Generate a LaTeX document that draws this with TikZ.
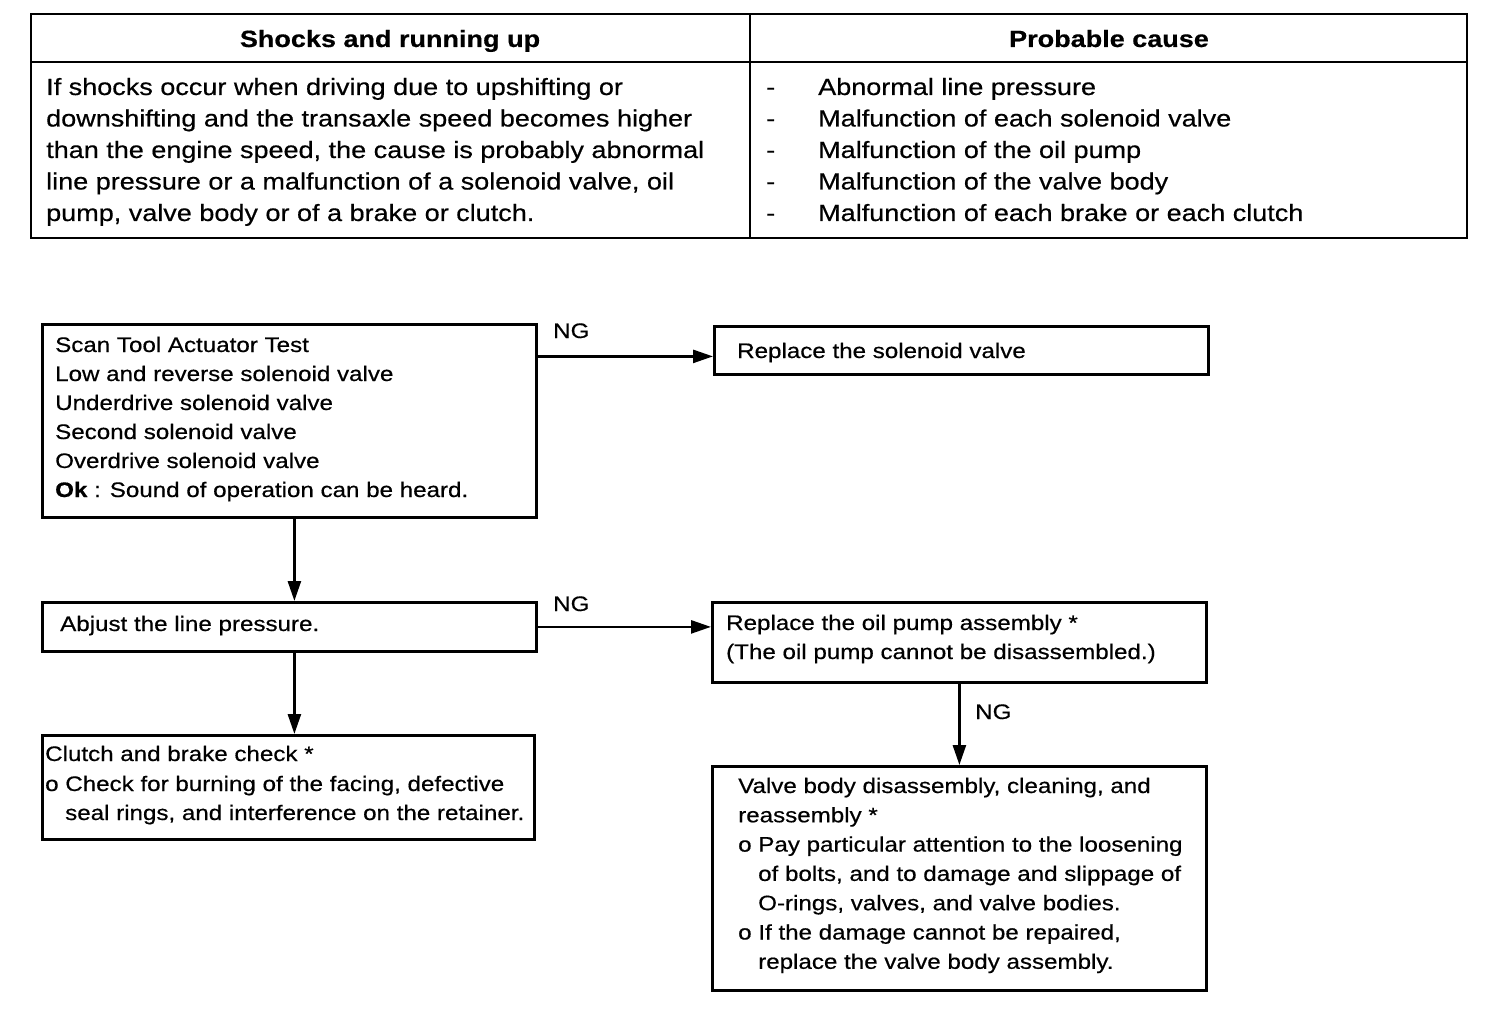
\documentclass[tikz,border=0pt]{standalone}
\usepackage{fontspec}
\setmainfont[FakeStretch=1.15,FakeBold=0.5]{Liberation Sans}
\usetikzlibrary{arrows.meta}
\begin{document}
\begin{tikzpicture}[x=1pt,y=1pt,
  tbl/.style={line width=2.8pt},
  tbli/.style={line width=2.2pt},
  box/.style={draw,line width=2.8pt,inner sep=0pt,anchor=north west},
  tt/.style={font=\fontsize{23.5}{28}\selectfont, inner sep=0pt, anchor=base west},
  th/.style={font=\bfseries\fontsize{23.5}{28}\selectfont, inner sep=0pt, anchor=base},
  ft/.style={font=\fontsize{21}{25}\selectfont, inner sep=0pt, anchor=base west},
  arr/.style={line width=2.6pt, -{Triangle[length=20pt,width=13pt]}}]
\useasboundingbox (0,0) rectangle (1504,-1016);
% table
\draw[tbl] (31,-14) rectangle (1467,-238);
\draw[tbli] (31,-62) -- (1467,-62);
\draw[tbli] (750,-14) -- (750,-238);
\node[th] (h1) at (390,-47) {Shocks and running up};
\node[th] (h2) at (1109,-47) {Probable cause};
\foreach \t [count=\i from 0] in {{If shocks occur when driving due to upshifting or},{downshifting and the transaxle speed becomes higher},{than the engine speed, the cause is probably abnormal},{line pressure or a malfunction of a solenoid valve, oil},{pump, valve body or of a brake or clutch.}}
  \node[tt] (l\i) at (46,{-95-31.5*\i}) {\t};
\foreach \t [count=\i from 0] in {Abnormal line pressure,Malfunction of each solenoid valve,Malfunction of the oil pump,Malfunction of the valve body,Malfunction of each brake or each clutch}
  {\node[tt] (d\i) at (766,{-95-31.5*\i}) {-};
   \node[tt] (r\i) at (818,{-95-31.5*\i}) {\t};}
% boxes
\node[box, minimum width=494pt, minimum height=193pt] (A) at (41,-323) {};
\node[box, minimum width=494pt, minimum height=48pt] (B) at (713,-325) {};
\node[box, minimum width=494pt, minimum height=49pt] (C) at (41,-601) {};
\node[box, minimum width=494pt, minimum height=80pt] (D) at (711,-601) {};
\node[box, minimum width=492pt, minimum height=104pt] (E) at (41,-734) {};
\node[box, minimum width=494pt, minimum height=224pt] (F) at (711,-765) {};
% box texts
\foreach \t [count=\i from 0] in {Scan Tool Actuator Test,Low and reverse solenoid valve,Underdrive solenoid valve,Second solenoid valve,Overdrive solenoid valve,{\textbf{Ok} : Sound of operation can be heard.}}
  \node[ft] (a\i) at (55,{-352-29*\i}) {\t};
\node[ft] (bt) at (737,-358) {Replace the solenoid valve};
\node[ft] (ct) at (60,-631) {Abjust the line pressure.};
\node[ft] (dt1) at (726,-630) {Replace the oil pump assembly *};
\node[ft] (dt2) at (726,-659) {(The oil pump cannot be disassembled.)};
\node[ft] (et1) at (45,-761) {Clutch and brake check *};
\node[ft] (et2) at (45,-791) {o Check for burning of the facing, defective};
\node[ft] (et3) at (65,-820) {seal rings, and interference on the retainer.};
\foreach \t/\x [count=\i from 0] in {{Valve body disassembly, cleaning, and}/738,{reassembly *}/738,{o Pay particular attention to the loosening}/738,{of bolts, and to damage and slippage of}/758,{O-rings, valves, and valve bodies.}/758,{o If the damage cannot be repaired,}/738,{replace the valve body assembly.}/758}
  \node[ft] (f\i) at (\x,{-793-29.3*\i}) {\t};
% connectors
\coordinate (bin) at ([yshift=-6pt]B.west);
\draw[arr] (A.east |- bin) -- (bin);
\node[ft] (ng1) at (553,-338) {NG};
\draw[arr] ([xshift=5pt]A.south) -- ([xshift=5pt]A.south |- C.north);
\draw[arr] (C.east) -- (C.east -| D.west);
\node[ft] (ng2) at (553,-611) {NG};
\draw[arr] ([xshift=5pt]C.south) -- ([xshift=5pt]C.south |- E.north);
\draw[arr] (D.south) -- (D.south |- F.north);
\node[ft] (ng3) at (975,-719) {NG};
\end{tikzpicture}
\end{document}
